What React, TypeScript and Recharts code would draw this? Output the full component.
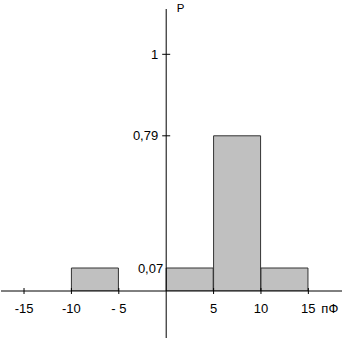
import React from 'react';
import { ComposedChart, Bar, XAxis, YAxis, ReferenceLine, Customized } from 'recharts';

// ---- data ----
const BIN_LO = [-10, 0, 5, 10];
const BIN_HI = [-5, 5, 10, 15];
const PROB = [0.07, 0.07, 0.79, 0.07];

const X_TICKS = [-15, -10, -5, 5, 10, 15];
const X_TICK_LABELS = ['-15', '-10', '- 5', '5', '10', '15'];
const X_UNIT = 'пФ';

const Y_TICKS = [0.07, 0.79, 1];
const Y_TICK_LABELS = ['0,07', '0,79', '1'];
const Y_TITLE = 'P';

// ---- layout (the reference is drawn not-to-scale on the P axis) ----
const W = 342;
const H = 338;
const MARGIN_TOP = 9;
const XAXIS_H = 47;
const YAXIS_W = 1;
const X_DOMAIN: [number, number] = [-17.43, 18.55];
// display height (px above baseline) of the labelled P values
const Y_KNOT_VALUES = [0, 0.07, 0.79, 1];
const Y_KNOT_DISPLAY = [0, 23, 155.2, 236.7];

const FONT = '"Liberation Sans", Arial, sans-serif';

const data = BIN_LO.map((lo, i) => ({ x: (lo + BIN_HI[i]) / 2, p: PROB[i] }));

function warp(v: number): number {
  const k = Y_KNOT_VALUES, d = Y_KNOT_DISPLAY, n = k.length;
  let i = 0;
  if (v <= k[0]) i = 0;
  else if (v >= k[n - 1]) i = n - 2;
  else { while (i < n - 2 && v > k[i + 1]) i++; }
  return d[i] + ((v - k[i]) / (k[i + 1] - k[i])) * (d[i + 1] - d[i]);
}
function unwarp(w: number): number {
  const k = Y_KNOT_VALUES, d = Y_KNOT_DISPLAY, n = k.length;
  let i = 0;
  if (w <= d[0]) i = 0;
  else if (w >= d[n - 1]) i = n - 2;
  else { while (i < n - 2 && w > d[i + 1]) i++; }
  return k[i] + ((w - d[i]) / (d[i + 1] - d[i])) * (k[i + 1] - k[i]);
}

function makeScale(dom: number[] = [0, 1], rng: number[] = [0, 1]): any {
  const s: any = (v: number) => {
    const w0 = warp(dom[0]), w1 = warp(dom[dom.length - 1]);
    const t = (warp(Number(v)) - w0) / (w1 - w0);
    return rng[0] + t * (rng[rng.length - 1] - rng[0]);
  };
  s.domain = (d?: number[]) => {
    if (d === undefined) return dom.slice();
    dom = [Number(d[0]), Number(d[d.length - 1])];
    return s;
  };
  s.range = (r?: number[]) => {
    if (r === undefined) return rng.slice();
    rng = [Number(r[0]), Number(r[r.length - 1])];
    return s;
  };
  s.invert = (px: number) => {
    const w0 = warp(dom[0]), w1 = warp(dom[dom.length - 1]);
    const t = (px - rng[0]) / (rng[rng.length - 1] - rng[0]);
    return unwarp(w0 + t * (w1 - w0));
  };
  s.copy = () => makeScale(dom.slice(), rng.slice());
  s.ticks = () => Y_TICKS.slice();
  s.tickFormat = () => (v: number) => String(v);
  s.nice = () => s;
  s.clamp = () => s;
  return s;
}

const PLOT_H = H - MARGIN_TOP - XAXIS_H;
const PLOT_W = W - YAXIS_W;
const Y_MAX = unwarp(PLOT_H);
const Y_EXT_BOTTOM = unwarp(-XAXIS_H);
const ZERO_X = YAXIS_W + ((0 - X_DOMAIN[0]) / (X_DOMAIN[1] - X_DOMAIN[0])) * PLOT_W;

const XTick = (props: any) => {
  const { x, y, payload } = props;
  const idx = X_TICKS.indexOf(payload.value);
  const label = idx >= 0 ? X_TICK_LABELS[idx] : String(payload.value);
  const last = idx === X_TICKS.length - 1;
  return (
    <g>
      <line x1={x} x2={x} y1={y - 3} y2={y + 3} stroke="#000" strokeWidth={1} />
      <text x={x} y={y + 22} textAnchor="middle" fontSize={13} fontFamily={FONT} fill="#000">
        {label}
      </text>
      {last && (
        <text x={x + 13} y={y + 22} textAnchor="start" fontSize={13} fontFamily={FONT} fill="#000">
          {X_UNIT}
        </text>
      )}
    </g>
  );
};

const YTick = (props: any) => {
  const { y, payload } = props;
  const idx = Y_TICKS.indexOf(payload.value);
  const label = idx >= 0 ? Y_TICK_LABELS[idx] : String(payload.value);
  const isLow = idx === 0;
  return (
    <g>
      {!isLow && (
        <line x1={ZERO_X - 4} x2={ZERO_X + 4} y1={y} y2={y} stroke="#000" strokeWidth={1} />
      )}
      <text
        x={isLow ? ZERO_X - 3 : ZERO_X - 8}
        y={y}
        dy="0.36em"
        textAnchor="end"
        fontSize={13}
        fontFamily={FONT}
        fill="#000"
      >
        {label}
      </text>
    </g>
  );
};

const yScale = makeScale();

export default function App() {
  return (
    <div style={{ position: 'absolute', left: 0, top: 0, width: W, height: H, background: '#fff' }}>
      <ComposedChart
        width={W}
        height={H}
        data={data}
        margin={{ top: MARGIN_TOP, right: 0, bottom: 0, left: 0 }}
        barCategoryGap={0}
        barGap={0}
      >
        <XAxis
          dataKey="x"
          type="number"
          domain={X_DOMAIN}
          allowDataOverflow
          ticks={X_TICKS}
          interval={0}
          height={XAXIS_H}
          tickSize={0}
          tickMargin={0}
          tickLine={false}
          axisLine={{ stroke: '#000', strokeWidth: 1 }}
          tick={<XTick />}
        />
        <YAxis
          type="number"
          domain={[0, Y_MAX]}
          allowDataOverflow
          scale={yScale}
          ticks={Y_TICKS}
          interval={0}
          width={YAXIS_W}
          tickSize={0}
          tickMargin={0}
          tickLine={false}
          axisLine={false}
          tick={<YTick />}
        />
        <Bar
          dataKey="p"
          fill="#c0c0c0"
          stroke="#333"
          strokeWidth={1}
          isAnimationActive={false}
        />
        <ReferenceLine
          segment={[{ x: 0, y: Y_EXT_BOTTOM }, { x: 0, y: Y_MAX }]}
          ifOverflow="visible"
          stroke="#000"
          strokeWidth={1}
        />
        <Customized
          component={() => (
            <text x={ZERO_X + 10.5} y={12} fontSize={11.5} fontFamily={FONT} fill="#000">
              {Y_TITLE}
            </text>
          )}
        />
      </ComposedChart>
    </div>
  );
}
